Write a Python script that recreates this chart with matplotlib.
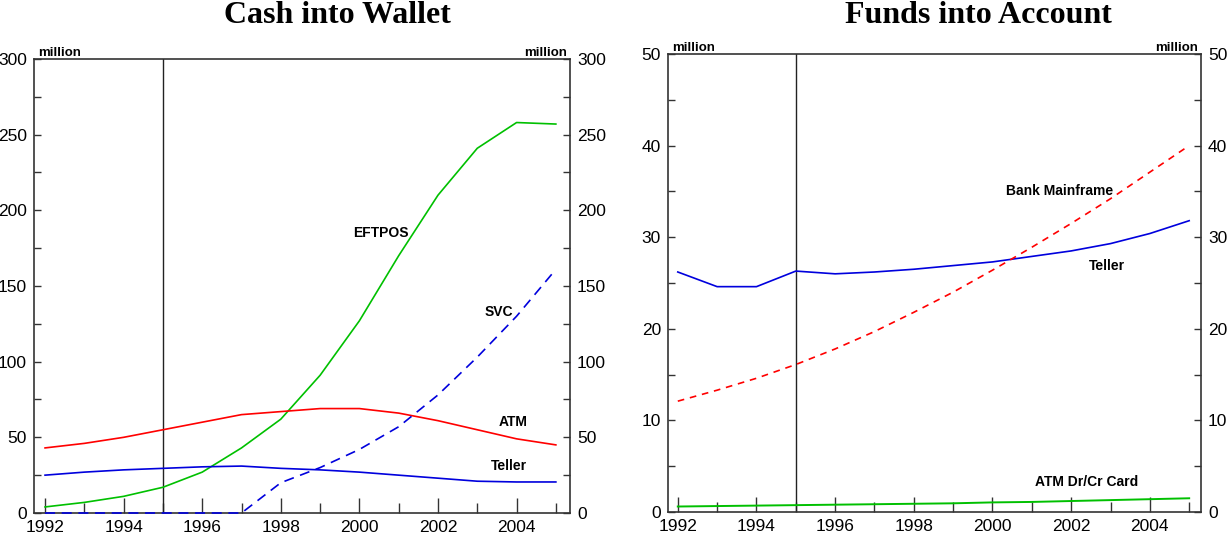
import numpy as np
import matplotlib.pyplot as plt
from matplotlib.ticker import MultipleLocator

years = np.arange(1992, 2006)

# Cash into Wallet, million
eftpos = [4, 7, 11, 17, 27, 43, 62, 91, 127, 170, 210, 241, 258, 257]
atm = [43, 46, 50, 55, 60, 65, 67, 69, 69, 66, 61, 55, 49, 45]
teller_cash = [25, 27, 28.5, 29.5, 30.5, 31, 29.5, 28.5, 27, 25, 23, 21, 20.5, 20.5]
svc = [0, 0, 0, 0, 0, 0, 20, 30, 42, 57, 78, 103, 130, 161]

# Funds into Account, million
teller_funds = [26.2, 24.6, 24.6, 26.3, 26.0, 26.2, 26.5, 26.9, 27.3, 27.9, 28.5, 29.3, 30.4, 31.8]
mainframe = [12.1, 13.3, 14.6, 16.1, 17.8, 19.7, 21.8, 24.0, 26.4, 28.9, 31.5, 34.2, 37.1, 40.0]
card = [0.6, 0.65, 0.7, 0.75, 0.8, 0.85, 0.9, 0.95, 1.05, 1.1, 1.2, 1.3, 1.4, 1.5]

GREEN = '#00c000'
RED = '#ff0000'
BLUE = '#0000dd'

plt.rcParams['font.family'] = ['Liberation Sans', 'DejaVu Sans']

fig = plt.figure(figsize=(12.29, 5.44), dpi=100)
ax1 = fig.add_axes([0.0277, 0.057, 0.4361, 0.8346])
ax2 = fig.add_axes([0.5435, 0.0588, 0.4337, 0.842])


def style(ax, xlim, ymax, major, minor):
    ax.set_xlim(*xlim)
    ax.set_ylim(0, ymax)
    ax.xaxis.set_major_locator(MultipleLocator(2))
    ax.xaxis.set_minor_locator(MultipleLocator(1))
    ax.yaxis.set_major_locator(MultipleLocator(major))
    ax.yaxis.set_minor_locator(MultipleLocator(minor))
    ax.tick_params(axis='x', which='major', length=11)
    ax.tick_params(axis='x', which='minor', length=7)
    ax.tick_params(axis='x', which='both', direction='in', width=1, top=False,
                   labelsize=12.5, pad=5, colors='#333333', labelcolor='black')
    ax.tick_params(axis='y', which='both', direction='in', length=5, width=1,
                   left=True, right=True, labelleft=True, labelright=True,
                   labelsize=12.5, pad=5, colors='#333333', labelcolor='black')
    for s in ax.spines.values():
        s.set_linewidth(1.2)
        s.set_color('#333333')
    ax.axvline(1995, color='#222222', lw=1)
    ax.text(0.008, 1.0, 'million', transform=ax.transAxes, ha='left', va='bottom',
            fontsize=9.5, fontweight='bold')
    ax.text(0.995, 1.0, 'million', transform=ax.transAxes, ha='right', va='bottom',
            fontsize=9.5, fontweight='bold')


style(ax1, (1991.72, 2005.36), 300, 50, 25)
ax1.plot(years, eftpos, color=GREEN, lw=1.2, zorder=3)
ax1.plot(years, atm, color=RED, lw=1.2, zorder=3)
ax1.plot(years, teller_cash, color=BLUE, lw=1.2, zorder=3)
ax1.plot(years, svc, color=BLUE, lw=1.2, ls=(0, (6, 4)), zorder=3, clip_on=False)
lab = dict(fontsize=10, fontweight='bold', ha='center', va='center')
ax1.text(2000.55, 185, 'EFTPOS', **lab)
ax1.text(2003.55, 133, 'SVC', **lab)
ax1.text(2003.9, 60, 'ATM', **lab)
ax1.text(2003.8, 31, 'Teller', **lab)

style(ax2, (1991.75, 2005.3), 50, 10, 5)
ax2.plot(years, teller_funds, color=BLUE, lw=1.2, zorder=3)
ax2.plot(years, mainframe, color=RED, lw=1.2, ls=(0, (4, 3.5)), zorder=3)
ax2.plot(years, card, color=GREEN, lw=1.4, zorder=3)
ax2.text(2001.7, 35, 'Bank Mainframe', **lab)
ax2.text(2002.9, 26.9, 'Teller', **lab)
ax2.text(2002.4, 3.3, 'ATM Dr/Cr Card', **lab)

title = dict(fontsize=23, fontweight='bold', family=['Liberation Serif', 'DejaVu Serif'],
             ha='center', va='top')
fig.text(0.2745, 0.998, 'Cash into Wallet', **title)
fig.text(0.7965, 0.998, 'Funds into Account', **title)

fig.savefig('out.png', dpi=100)
